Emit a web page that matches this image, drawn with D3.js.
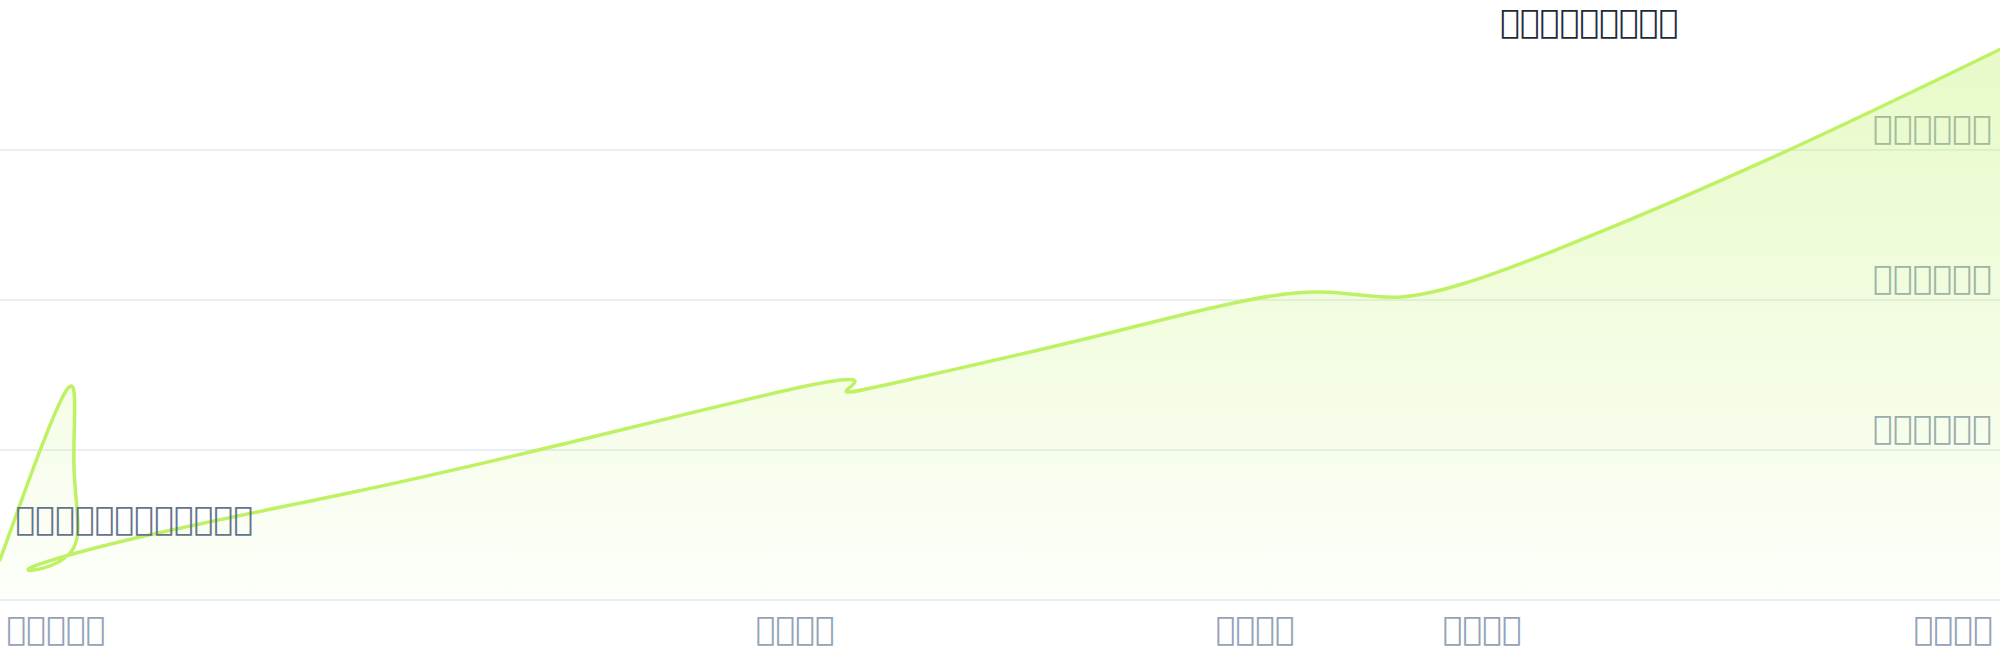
<!DOCTYPE html>
<html>
<head>
<meta charset="utf-8">
<script src="https://cdn.jsdelivr.net/npm/d3@7"></script>
<style>
  html, body { margin: 0; padding: 0; background: #ffffff; }
  svg { display: block; }
  text { font-family: "DejaVu Sans", sans-serif; font-size: 33px; }
</style>
</head>
<body>
<svg id="chart" width="2000" height="660"></svg>
<script>
// ---- data (the reference glyphs are unrenderable; kept as real text) ----
const title = "\uE000\uE001\uE002\uE003\uE004\uE005\uE006\uE007\uE008";
const annotation = "\uE000\uE001\uE002\uE003\uE009\uE004\uE005\uE006\uE007\uE008\uE001\uE002";
const xValues = [0, 34, 37, 35.5, 14.3, 70, 174.5, 279.5, 395, 427.5, 423.3, 455, 550.5, 647.5, 700.5, 774, 889, 1004.5];
const yValues = [26.7, 141.3, 88, 32, 20.7, 42, 71.3, 103.3, 140.3, 145.7, 138.7, 147, 176.7, 204.7, 202, 231.3, 296.7, 370];
const yTicks = [100, 200, 300];
const yTickLabels = ["\uE001\uE000\uE000\uE005\uE006\uE007", "\uE002\uE000\uE000\uE005\uE006\uE007", "\uE003\uE000\uE000\uE005\uE006\uE007"];
const xTicks = [0, 397.5, 627.5, 741, 1000];
const xTickLabels = ["\uE004\uE005\uE006\uE007\uE008", "\uE009\uE001\uE002\uE003", "\uE009\uE004\uE002\uE003", "\uE009\uE005\uE002\uE003", "\uE009\uE006\uE002\uE003"];

const W = 2000, H = 660;
const svg = d3.select("#chart");
const x = d3.scaleLinear().domain([0, 1000]).range([0, W]);
const y = d3.scaleLinear().domain([0, 368]).range([600, 48]);
const data = xValues.map((d, i) => ({ x: d, y: yValues[i] }));

const defs = svg.append("defs");
const grad = defs.append("linearGradient").attr("id", "fillGrad")
  .attr("gradientUnits", "userSpaceOnUse")
  .attr("x1", 0).attr("x2", 0).attr("y1", y(368)).attr("y2", y(0));
grad.append("stop").attr("offset", "0%").attr("stop-color", "#bef264").attr("stop-opacity", 0.36);
grad.append("stop").attr("offset", "100%").attr("stop-color", "#bef264").attr("stop-opacity", 0.03);

// grid
svg.append("g").selectAll("line").data([0, ...yTicks]).join("line")
  .attr("x1", 0).attr("x2", W)
  .attr("y1", d => y(d)).attr("y2", d => y(d))
  .attr("stroke", "#e2e8f0").attr("stroke-width", 1.5);

// y labels (under the area)
svg.append("g").selectAll("text").data(yTicks).join("text")
  .attr("x", W - 8.3).attr("y", d => y(d) - 11)
  .attr("text-anchor", "end").attr("fill", "#94a3b8")
  .text((d, i) => yTickLabels[i]);

// area + line
const area = d3.area().curve(d3.curveNatural)
  .x(d => x(d.x)).y0(y(0)).y1(d => y(d.y));
svg.append("path").datum(data).attr("d", area).attr("fill", "url(#fillGrad)");
const line = d3.line().curve(d3.curveNatural).x(d => x(d.x)).y(d => y(d.y));
svg.append("path").datum(data).attr("d", line)
  .attr("fill", "none").attr("stroke", "#bef264").attr("stroke-width", 3.5)
  .attr("stroke-linejoin", "round").attr("stroke-linecap", "round");

// x labels
svg.append("g").selectAll("text").data(xTicks).join("text")
  .attr("x", (d, i) => x(d) + (i === 0 ? 6.3 : i === xTicks.length - 1 ? -7.3 : 0))
  .attr("y", 640)
  .attr("text-anchor", (d, i) => i === 0 ? "start" : i === xTicks.length - 1 ? "end" : "middle")
  .attr("fill", "#94a3b8")
  .text((d, i) => xTickLabels[i]);

// annotation
svg.append("text").attr("x", 15.3).attr("y", 530).attr("fill", "#64748b").text(annotation);

// title
svg.append("text").attr("x", 1500).attr("y", 33).attr("fill", "#1e293b").text(title);
</script>
</body>
</html>
